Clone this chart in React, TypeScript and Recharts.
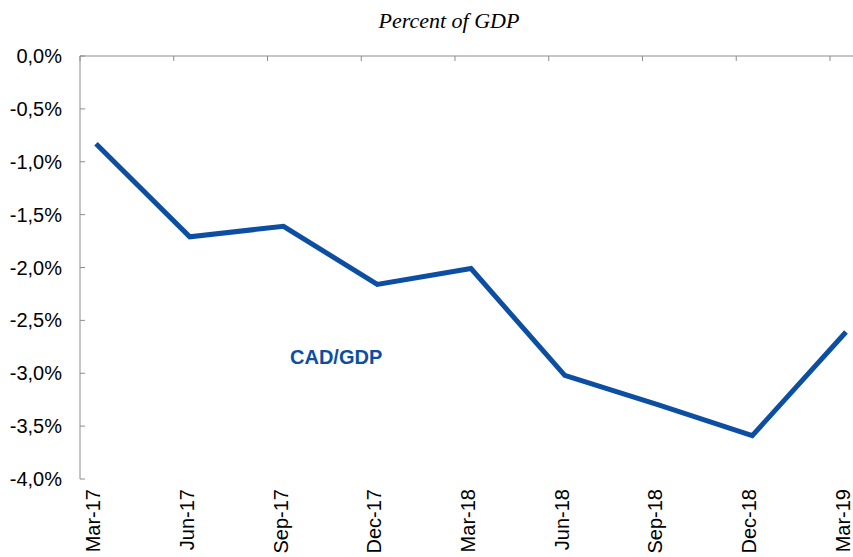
import React from 'react';
import { LineChart, Line, XAxis, YAxis } from 'recharts';

const categories = ['Mar-17', 'Jun-17', 'Sep-17', 'Dec-17', 'Mar-18', 'Jun-18', 'Sep-18', 'Dec-18', 'Mar-19'];
const cadGdp = [-0.83, -1.71, -1.61, -2.16, -2.01, -3.02, -3.30, -3.59, -2.61];
const yTicks = [-4, -3.5, -3, -2.5, -2, -1.5, -1, -0.5, 0];
const title = 'Percent of GDP';
const seriesLabel = 'CAD/GDP';

const data = categories.map((c, i) => ({ i, label: categories[i], v: cadGdp[i] }));
const catTicks = categories.map((_, i) => i);
const edgeOffset = 0.1707;
const boundaryTicks = categories.map((_, i) => i - edgeOffset);

const LINE_COLOR = '#0b4ea2';
const AXIS_COLOR = '#8c8c8c';

const fmtPct = (v: number) => (v === 0 ? '0,0%' : v.toFixed(1).replace('.', ',') + '%');

const RotatedTick = (props: any) => {
  const { x, y, payload } = props;
  const tx = x - 3;
  return (
    <text
      x={tx}
      y={y}
      transform={`rotate(-90, ${tx}, ${y})`}
      textAnchor="end"
      dominantBaseline="central"
      fontFamily="Liberation Sans, Arial, sans-serif"
      fontSize={20}
      fill="#000"
    >
      {categories[payload.value]}
    </text>
  );
};

export default function App() {
  return (
    <div style={{ position: 'absolute', left: 0, top: 0, width: 853, height: 557, background: '#fff' }}>
      <LineChart width={853} height={557} data={data} margin={{ top: 55, right: 0, bottom: 0, left: 0 }}>
        <XAxis
          xAxisId="top"
          orientation="top"
          dataKey="i"
          type="number"
          domain={[-edgeOffset, 8.0747]}
          ticks={boundaryTicks}
          allowDataOverflow
          height={1}
          stroke={AXIS_COLOR}
          tickSize={-5}
          tickFormatter={() => ''}
        />
        <XAxis
          xAxisId="bottom"
          orientation="bottom"
          dataKey="i"
          type="number"
          domain={[-edgeOffset, 8.0747]}
          ticks={catTicks}
          allowDataOverflow
          height={78}
          axisLine={false}
          tickLine={false}
          tickSize={0}
          tickMargin={10}
          interval={0}
          tick={<RotatedTick />}
        />
        <YAxis
          domain={[-4, 0]}
          ticks={yTicks}
          width={80}
          stroke={AXIS_COLOR}
          tickSize={-5}
          tickMargin={23}
          interval={0}
          tickFormatter={fmtPct}
          tick={{ fill: '#000', fontSize: 20, fontFamily: 'Liberation Sans, Arial, sans-serif' }}
        />
        <Line
          xAxisId="bottom"
          dataKey="v"
          stroke={LINE_COLOR}
          strokeWidth={5}
          dot={false}
          activeDot={false}
          isAnimationActive={false}
          strokeLinejoin="miter"
        />
      </LineChart>
      <svg width={853} height={557} style={{ position: 'absolute', left: 0, top: 0, pointerEvents: 'none' }}>
        <text
          x={449}
          y={28}
          textAnchor="middle"
          fontFamily="Liberation Serif, Times New Roman, serif"
          fontStyle="italic"
          fontSize={22}
          fill="#000"
        >
          {title}
        </text>
        <text
          x={290}
          y={364}
          fontFamily="Liberation Sans, Arial, sans-serif"
          fontWeight="bold"
          fontSize={20}
          fill={LINE_COLOR}
        >
          {seriesLabel}
        </text>
      </svg>
    </div>
  );
}
